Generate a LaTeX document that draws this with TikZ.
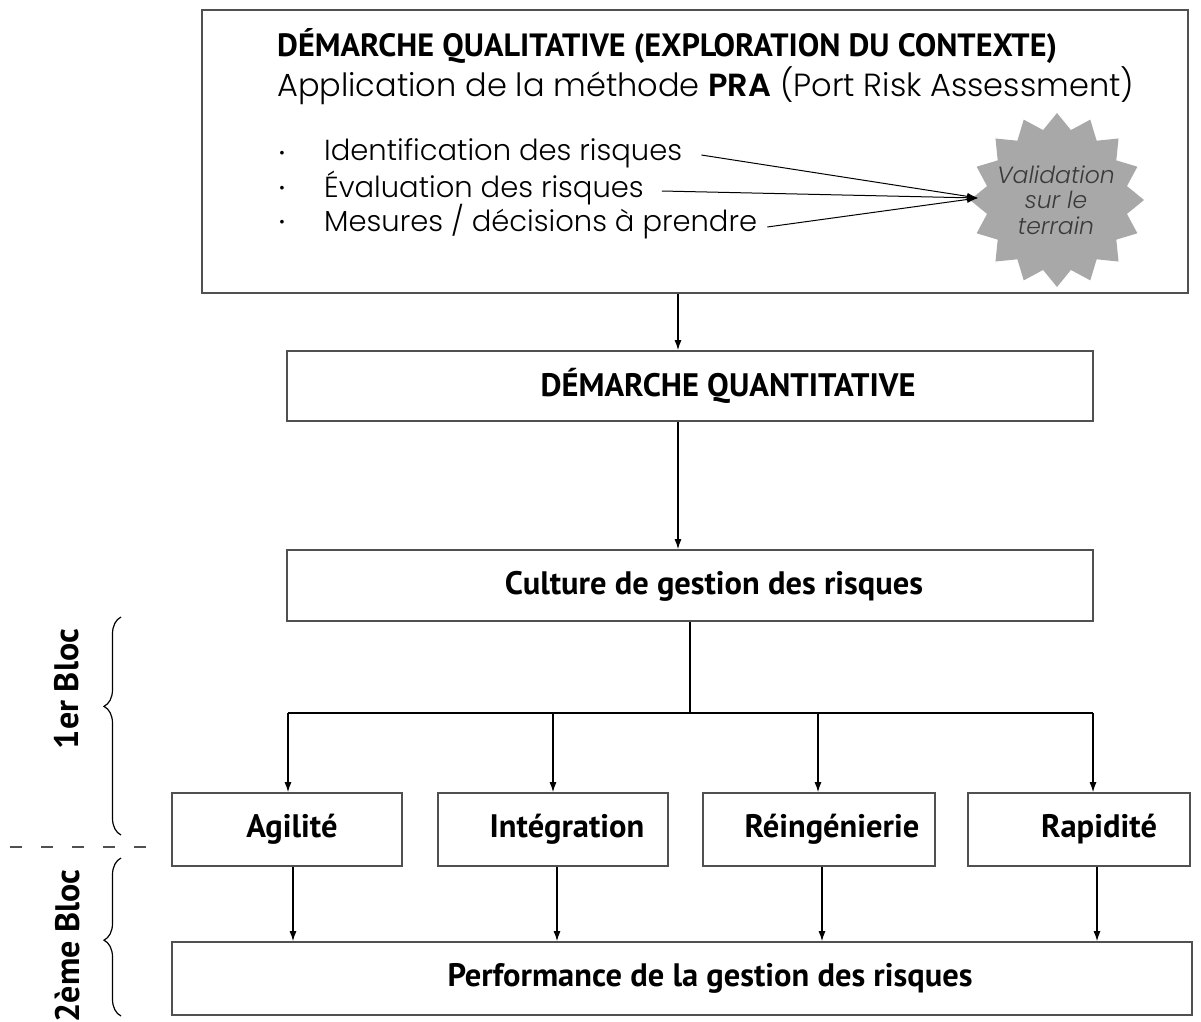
\documentclass[tikz,border=0pt]{standalone}
\usepackage{fontspec}
\setmainfont{PT Sans}
\IfFontExistsTF{Poppins Light}
  {\newfontfamily\mfont{Poppins}[UprightFont=* Light, ItalicFont=* Light Italic, BoldFont=* SemiBold]}
  {\newfontfamily\mfont{Poppins}}
\usetikzlibrary{arrows.meta,shapes.geometric,decorations.pathreplacing,calc}
\definecolor{edge}{HTML}{505050}
\definecolor{burst}{HTML}{A8A8A8}
\definecolor{bursttext}{HTML}{3A3A3A}
\begin{document}
\begin{tikzpicture}[x=1pt,y=-1pt,
  box/.style={draw=edge, line width=1.8pt, fill=white, inner sep=0pt, rectangle},
  btxt/.style={font=\fontsize{32.5}{38}\selectfont\bfseries, inner sep=0pt},
  mtxt/.style={font=\mfont\fontsize{29}{32}\selectfont, inner sep=0pt, anchor=west},
  dotmark/.style={font=\mfont\fontsize{16}{16}\selectfont, inner sep=0pt},
  conn/.style={line width=1.1pt, black},
  arr/.style={conn, -{Latex[length=10pt,width=7pt]}},
  thinarr/.style={line width=1pt, black, -{Latex[length=11pt,width=7pt]}},
  bracket/.style={line width=1.2pt, black, decorate},
]
\useasboundingbox (0,0) rectangle (1201,1021);

% ---- qualitative block ----
\node[box, minimum width=986pt, minimum height=283pt] (qual) at (695,151.5) {};
\node[btxt, font=\fontsize{32.2}{38}\selectfont\bfseries, anchor=west] (qtitle) at (277,46)
  {DÉMARCHE QUALITATIVE (EXPLORATION DU CONTEXTE)};
\node[mtxt, font=\mfont\fontsize{32}{36}\selectfont] (qsub) at (277,86)
  {Application de la méthode \textbf{PRA} (Port Risk Assessment)};

\node[dotmark] (b1) at (282,155) {•};
\node[dotmark] (b2) at (282,190) {•};
\node[dotmark] (b3) at (282,224) {•};
\node[mtxt] (i1) at (324,153) {Identification des risques};
\node[mtxt] (i2) at (324,188) {Évaluation des risques};
\node[mtxt] (i3) at (324,222) {Mesures / décisions à prendre};

\node[star, star points=16, star point ratio=1.22, minimum size=174pt,
      inner sep=0pt, fill=burst] (burst) at (1057,200) {};
\node[align=center, text=bursttext, inner sep=0pt,
      font=\mfont\itshape\fontsize{23.5}{25.5}\selectfont] (btext) at (1056,200)
  {Validation\\sur le\\terrain};
\coordinate (vt) at (978,198);
\draw[thinarr] ($(i1.east)+(19,2)$) -- (vt);
\draw[thinarr] ($(i2.east)+(18,3)$) -- (vt);
\draw[thinarr] ($(i3.east)+(10,5)$) -- (vt);

% ---- quantitative block ----
\node[box, minimum width=806pt, minimum height=70pt] (quant) at (690,386) {};
\node[btxt] (quantt) at (728,386) {DÉMARCHE QUANTITATIVE};
\coordinate (ax) at (678,0);
\draw[arr] (qual.south -| ax) -- (quant.north -| ax);

% ---- risk culture ----
\node[box, minimum width=806pt, minimum height=71pt] (cult) at (690,585.5) {};
\node[btxt] (cultt) at (714,586) {Culture de gestion des risques};
\draw[arr] (quant.south -| ax) -- (cult.north -| ax);

% ---- four levers ----
\node[box, minimum width=230pt, minimum height=73pt] (agil) at (287,829.5) {};
\node[box, minimum width=230pt, minimum height=73pt] (integ) at (553,829.5) {};
\node[box, minimum width=232pt, minimum height=73pt] (reing) at (819,829.5) {};
\node[box, minimum width=222pt, minimum height=73pt] (rapid) at (1079,829.5) {};
\node[btxt] (agilt) at (292,829.5) {Agilité};
\node[btxt] (integt) at (567,829.5) {Intégration};
\node[btxt] (reingt) at (832,829.5) {Réingénierie};
\node[btxt] (rapidt) at (1099,829.5) {Rapidité};

\coordinate (bar) at (690,713);
\coordinate (k1) at (288,713);
\coordinate (k2) at (553,713);
\coordinate (k3) at (818,713);
\coordinate (k4) at (1093,713);
\draw[conn] (cult.south) -- (bar);
\draw[conn] (k1) -- (k4);
\draw[arr] (k1) -- (k1 |- agil.north);
\draw[arr] (k2) -- (k2 |- integ.north);
\draw[arr] (k3) -- (k3 |- reing.north);
\draw[arr] (k4) -- (k4 |- rapid.north);

% ---- performance ----
\node[box, minimum width=1020pt, minimum height=73pt] (perf) at (682,978.5) {};
\node[btxt] (perft) at (710,978.5) {Performance de la gestion des risques};
\coordinate (d1) at (293,0);
\coordinate (d2) at (557,0);
\coordinate (d3) at (822,0);
\coordinate (d4) at (1097,0);
\draw[arr] (agil.south -| d1) -- (perf.north -| d1);
\draw[arr] (integ.south -| d2) -- (perf.north -| d2);
\draw[arr] (reing.south -| d3) -- (perf.north -| d3);
\draw[arr] (rapid.south -| d4) -- (perf.north -| d4);

% ---- block braces ----
\coordinate (br1a) at (121,835);
\coordinate (br1b) at (121,617);
\coordinate (br2a) at (121,1016);
\coordinate (br2b) at (121,858);
\draw[bracket, decoration={brace, amplitude=17pt, aspect=0.59}] (br1a) -- (br1b);
\draw[bracket, decoration={brace, amplitude=17pt, aspect=0.48}] (br2a) -- (br2b);
\node[btxt, rotate=90, font=\fontsize{34}{40}\selectfont\bfseries] (bl1) at (67,689) {1er Bloc};
\node[btxt, rotate=90, font=\fontsize{34}{40}\selectfont\bfseries] (bl2) at (67,946) {2ème Bloc};
\coordinate (sepA) at (10,847);
\coordinate (sepB) at (147,847);
\draw[line width=1.1pt, edge, dash pattern=on 12pt off 19pt] (sepA) -- (sepB);
\end{tikzpicture}
\end{document}
